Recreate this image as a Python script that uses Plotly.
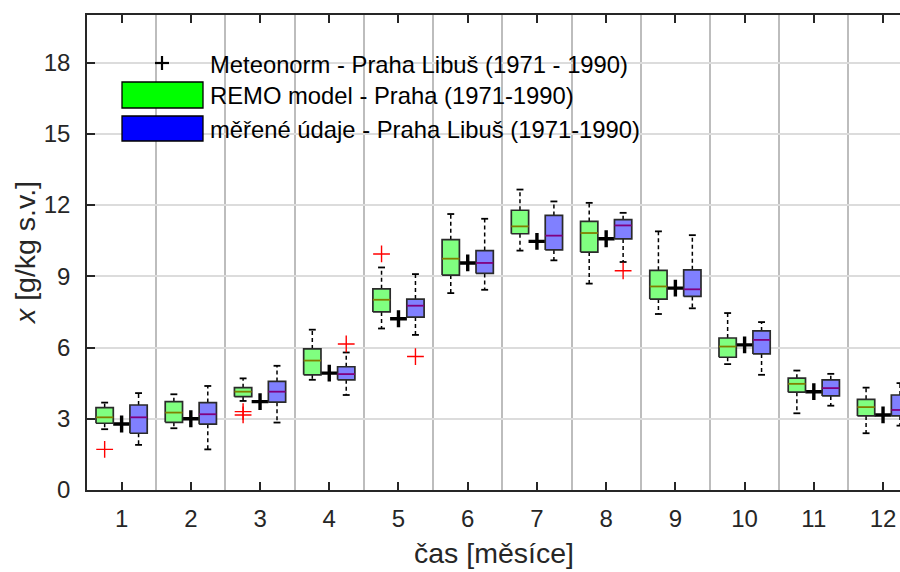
import plotly.graph_objects as go

# Months on the x axis
months = [1, 2, 3, 4, 5, 6, 7, 8, 9, 10, 11, 12]

# Meteonorm monthly means (g/kg)
meteonorm = [2.78, 3.00, 3.72, 4.92, 7.21, 9.56, 10.47, 10.58, 8.50, 6.11, 4.14, 3.16]

# REMO model - box statistics per month
remo_lo = [2.56, 2.60, 3.75, 4.64, 6.80, 8.29, 10.08, 8.69, 7.41, 5.30, 3.23, 2.39]
remo_q1 = [2.81, 2.85, 3.93, 4.85, 7.50, 9.05, 10.79, 10.02, 8.04, 5.59, 4.12, 3.12]
remo_med = [3.06, 3.26, 4.14, 5.45, 8.01, 9.74, 11.10, 10.82, 8.57, 6.04, 4.47, 3.49]
remo_q3 = [3.47, 3.72, 4.31, 5.94, 8.47, 10.54, 11.78, 11.31, 9.25, 6.40, 4.71, 3.82]
remo_hi = [3.68, 4.03, 4.70, 6.75, 9.37, 11.62, 12.65, 12.09, 10.89, 7.45, 5.03, 4.31]
remo_out_month = [1, 3, 3, 5]
remo_out_val = [1.71, 3.30, 3.16, 9.94]

# Measured data - box statistics per month
meas_lo = [1.90, 1.71, 2.84, 4.00, 6.53, 8.43, 9.67, 9.60, 7.65, 4.85, 3.55, 2.71]
meas_q1 = [2.39, 2.77, 3.70, 4.64, 7.28, 9.12, 10.11, 10.57, 8.15, 5.73, 3.96, 3.12]
meas_med = [3.06, 3.19, 4.14, 4.88, 7.76, 9.56, 10.71, 11.14, 8.45, 6.32, 4.29, 3.37]
meas_q3 = [3.58, 3.68, 4.57, 5.19, 8.04, 10.08, 11.56, 11.38, 9.27, 6.70, 4.64, 4.00]
meas_hi = [4.08, 4.38, 5.23, 5.79, 9.09, 11.42, 12.15, 11.67, 10.73, 7.07, 4.89, 4.50]
meas_out_month = [4, 5, 8]
meas_out_val = [6.15, 5.62, 9.23]

y_ticks = [0, 3, 6, 9, 12, 15, 18]

legend_labels = [
    "Meteonorm - Praha Libuš (1971 - 1990)",
    "REMO model - Praha (1971-1990)",
    "měřené údaje - Praha Libuš (1971-1990)",
]

FONT = "Liberation Sans, Arial, sans-serif"
OFFSET = 0.245
BOX_W = 0.25
CAP_W = 0.1

fig = go.Figure()


def box_series(offset, lo, q1, med, q3, hi, fill, med_color):
    bx, by, wx, wy, cx, cy, mx, my = [], [], [], [], [], [], [], []
    for m, a, b, c, d, e in zip(months, lo, q1, med, q3, hi):
        xc = m + offset
        l, r = xc - BOX_W / 2, xc + BOX_W / 2
        bx += [l, r, r, l, l, None]
        by += [b, b, d, d, b, None]
        wx += [xc, xc, None, xc, xc, None]
        wy += [d, e, None, b, a, None]
        cx += [xc - CAP_W / 2, xc + CAP_W / 2, None, xc - CAP_W / 2, xc + CAP_W / 2, None]
        cy += [e, e, None, a, a, None]
        mx += [l, r, None]
        my += [c, c, None]
    whisk = go.Scatter(x=wx, y=wy, mode="lines", hoverinfo="skip", showlegend=False,
                       line=dict(color="black", width=1.5, dash="4px,3px"))
    caps = go.Scatter(x=cx, y=cy, mode="lines", hoverinfo="skip", showlegend=False,
                      line=dict(color="black", width=1.8))
    boxes = go.Scatter(x=bx, y=by, mode="lines", fill="toself", fillcolor=fill,
                       hoverinfo="skip", showlegend=False,
                       line=dict(color="#2a2a2a", width=1.7))
    meds = go.Scatter(x=mx, y=my, mode="lines", hoverinfo="skip", showlegend=False,
                      line=dict(color=med_color, width=1.8))
    return whisk, caps, boxes, meds


g = box_series(-OFFSET, remo_lo, remo_q1, remo_med, remo_q3, remo_hi, "#80FF80", "#808000")
b = box_series(OFFSET, meas_lo, meas_q1, meas_med, meas_q3, meas_hi, "#8080FF", "#800080")

fig.add_trace(g[0])
fig.add_trace(g[1])
fig.add_trace(b[0])
fig.add_trace(b[1])

# Meteonorm markers sit between the two boxes of each month
fig.add_trace(go.Scatter(
    x=months, y=meteonorm, mode="markers", showlegend=False,
    marker=dict(symbol="cross-thin", size=12, line=dict(color="black", width=3.4)),
))

fig.add_trace(g[2])
fig.add_trace(g[3])
fig.add_trace(b[2])
fig.add_trace(b[3])

# Outliers
fig.add_trace(go.Scatter(
    x=[m - OFFSET for m in remo_out_month], y=remo_out_val, mode="markers", showlegend=False,
    marker=dict(symbol="cross-thin", size=12, line=dict(color="red", width=1.4)),
))
fig.add_trace(go.Scatter(
    x=[m + OFFSET for m in meas_out_month], y=meas_out_val, mode="markers", showlegend=False,
    marker=dict(symbol="cross-thin", size=12, line=dict(color="red", width=1.4)),
))

# Plot area in pixels: x 87..900, y 15..490
L, R, T, B = 87, 900, 15, 490


def px(xp):
    return (xp - L) / (R - L)


def py(yp):
    return (B - yp) / (B - T)


shapes = []
# Legend background
shapes.append(dict(type="rect", xref="paper", yref="paper", layer="between",
                   x0=px(113), x1=px(652), y0=py(148), y1=py(44),
                   fillcolor="white", line=dict(width=0)))
# Legend plus sign
shapes.append(dict(type="line", xref="paper", yref="paper",
                   x0=px(155), x1=px(169), y0=py(63), y1=py(63),
                   line=dict(color="black", width=2.2)))
shapes.append(dict(type="line", xref="paper", yref="paper",
                   x0=px(162), x1=px(162), y0=py(56), y1=py(70),
                   line=dict(color="black", width=2.2)))
# Legend patches
shapes.append(dict(type="rect", xref="paper", yref="paper",
                   x0=px(122), x1=px(203), y0=py(108), y1=py(82),
                   fillcolor="#00FF00", line=dict(color="black", width=1.3)))
shapes.append(dict(type="rect", xref="paper", yref="paper",
                   x0=px(122), x1=px(203), y0=py(141), y1=py(116),
                   fillcolor="#0000FF", line=dict(color="black", width=1.3)))

annotations = []
for label, yrow in zip(legend_labels, [64, 96, 129]):
    annotations.append(dict(text=label, xref="paper", yref="paper", x=px(208), y=py(yrow),
                            xanchor="left", yanchor="middle", showarrow=False,
                            font=dict(family=FONT, size=23.8, color="black")))
annotations.append(dict(text="čas [měsíce]", xref="paper", yref="paper", x=0.5, y=py(553),
                        xanchor="center", yanchor="middle", showarrow=False,
                        font=dict(family=FONT, size=28.5, color="#262626")))
annotations.append(dict(text="<i>x</i> [g/kg s.v.]", xref="paper", yref="paper", x=px(25),
                        y=py(253), xanchor="center", yanchor="middle", textangle=-90,
                        showarrow=False, font=dict(family=FONT, size=28.5, color="#262626")))

fig.update_layout(
    width=900, height=572,
    margin=dict(l=L, r=900 - R, t=T, b=572 - B, pad=0),
    paper_bgcolor="white", plot_bgcolor="white",
    showlegend=False,
    shapes=shapes, annotations=annotations,
    xaxis=dict(
        range=[0.5, 12.245], tickvals=months, ticktext=[str(m) for m in months],
        showgrid=False, zeroline=False,
        showline=True, linecolor="#262626", linewidth=1.6, mirror="ticks",
        ticks="inside", ticklen=8, tickwidth=1.5, tickcolor="#262626",
        tickfont=dict(family=FONT, size=24, color="#262626"),
        ticklabelstandoff=6,
        minor=dict(tick0=0.5, dtick=1, showgrid=True, gridcolor="#bdbdbd", gridwidth=1.5,
                   ticks=""),
    ),
    yaxis=dict(
        range=[0, 20], tickvals=y_ticks, ticktext=[str(v) for v in y_ticks],
        showgrid=True, gridcolor="#dcdcdc", gridwidth=1.5, zeroline=False,
        showline=True, linecolor="#262626", linewidth=1.6, mirror=False,
        ticks="inside", ticklen=8, tickwidth=1.5, tickcolor="#262626",
        tickfont=dict(family=FONT, size=24, color="#262626"),
        ticklabelstandoff=10,
    ),
)

fig.write_html("out.html")
